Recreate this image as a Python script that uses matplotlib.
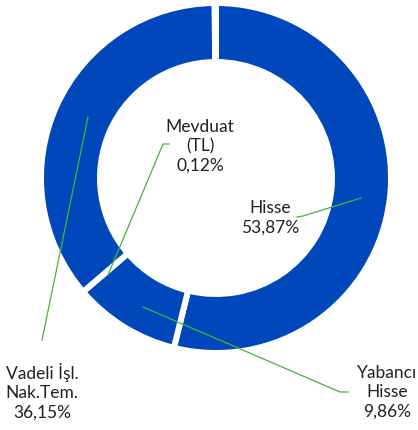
import matplotlib
matplotlib.use("Agg")
import matplotlib.pyplot as plt

# portfolio distribution
labels = ["Hisse", "Yabancı\nHisse", "Vadeli İşl.\nNak.Tem.", "Mevduat\n(TL)"]
values = [53.87, 9.86, 36.15, 0.12]
value_text = ["53,87%", "9,86%", "36,15%", "0,12%"]

blue = "#0047BB"
green = "#45B539"

plt.rcParams['font.family'] = ['Lato', 'DejaVu Sans']

fig = plt.figure(figsize=(4.18, 4.30), dpi=100)
ax = fig.add_axes([0, 0, 1, 1])

# pie drawn with y flipped -> counterclock True appears clockwise
ax.pie(values, startangle=-90, counterclock=True, colors=[blue] * 4,
       center=(216, 178), radius=175, frame=True,
       wedgeprops=dict(width=59, edgecolor="white", linewidth=4.3))
ax.set_xlim(0, 418)
ax.set_ylim(430, 0)
ax.set_aspect("equal")
ax.axis("off")

# label text (position in pixels)
label_pos = [(270, 218), (387, 392), (42, 392), (200, 146)]
for lab, val, (x, y) in zip(labels, value_text, label_pos):
    ax.text(x, y, lab + "\n" + val, ha="center", va="center",
            fontsize=12.5, color="#222222", linespacing=1.25)

# leader lines
leaders = [
    [(297, 217), (303, 216), (361, 198)],
    [(348, 392), (340, 392), (143, 307)],
    [(42, 340), (88, 117)],
    [(169, 144), (163, 144), (108, 275)],
]
for pts in leaders:
    xs = [p[0] for p in pts]
    ys = [p[1] for p in pts]
    ax.plot(xs, ys, color=green, lw=0.9)

fig.savefig("out.png", dpi=100)
